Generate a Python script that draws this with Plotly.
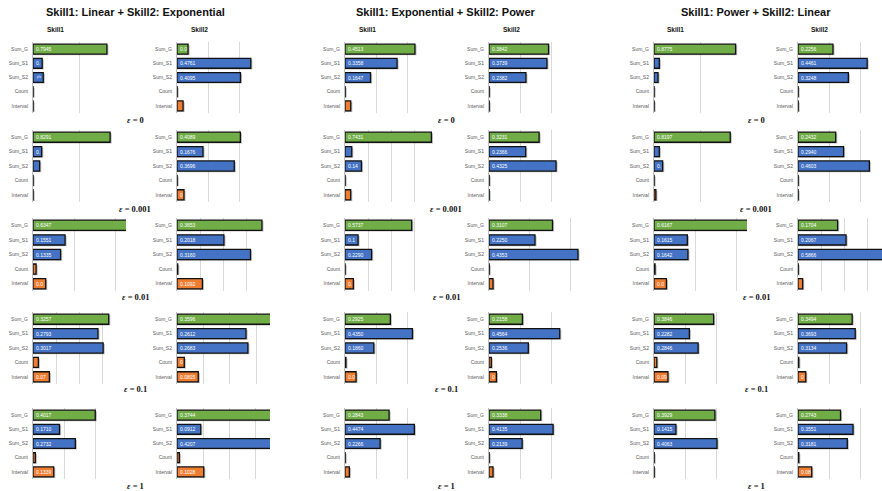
import plotly.graph_objects as go

# Bars per panel (top to bottom)
categories = ["Sum_G", "Sum_S1", "Sum_S2", "Count", "Interval"]
eps_values = ["0", "0.001", "0.01", "0.1", "1"]
group_titles = [
    "Skill1: Linear + Skill2: Exponential",
    "Skill1: Exponential + Skill2: Power",
    "Skill1: Power + Skill2: Linear",
]
skill_titles = ["Skill1", "Skill2"]

# One row per epsilon, values in category order
lin_exp_skill1 = [
    [0.7945, 0.0987, 0.1102, 0.0010, 0.0010],
    [0.8291, 0.0934, 0.0716, 0.0010, 0.0010],
    [0.6347, 0.1551, 0.1335, 0.0150, 0.0614],
    [0.3257, 0.2793, 0.3017, 0.0230, 0.0704],
    [0.4017, 0.1710, 0.2732, 0.0150, 0.1339],
]
lin_exp_skill2 = [
    [0.0712, 0.4761, 0.4095, 0.0010, 0.0390],
    [0.4089, 0.1676, 0.3696, 0.0010, 0.0450],
    [0.3653, 0.2018, 0.3160, 0.0030, 0.1092],
    [0.3596, 0.2612, 0.2683, 0.0276, 0.0805],
    [0.3744, 0.0912, 0.4207, 0.0090, 0.1028],
]
exp_pow_skill1 = [
    [0.4513, 0.3358, 0.1647, 0.0010, 0.0370],
    [0.7431, 0.0580, 0.1417, 0.0010, 0.0490],
    [0.5737, 0.1124, 0.2290, 0.0010, 0.0716],
    [0.2925, 0.4350, 0.1860, 0.0060, 0.0712],
    [0.2843, 0.4474, 0.2266, 0.0010, 0.0281],
]
exp_pow_skill2 = [
    [0.3842, 0.3739, 0.2382, 0.0010, 0.0010],
    [0.3231, 0.2366, 0.4325, 0.0010, 0.0010],
    [0.3107, 0.2250, 0.4353, 0.0010, 0.0196],
    [0.2158, 0.4564, 0.2536, 0.0150, 0.0478],
    [0.3338, 0.4135, 0.2139, 0.0010, 0.0258],
]
pow_lin_skill1 = [
    [0.8775, 0.0571, 0.0432, 0.0010, 0.0010],
    [0.8197, 0.0570, 0.0930, 0.0010, 0.0200],
    [0.6167, 0.1615, 0.1642, 0.0050, 0.0600],
    [0.3846, 0.2282, 0.2846, 0.0180, 0.0900],
    [0.3929, 0.1415, 0.4063, 0.0010, 0.0010],
]
pow_lin_skill2 = [
    [0.2256, 0.4461, 0.3248, 0.0010, 0.0010],
    [0.2432, 0.2940, 0.4603, 0.0010, 0.0010],
    [0.1704, 0.2067, 0.5866, 0.0010, 0.0200],
    [0.3494, 0.3693, 0.3134, 0.0050, 0.0500],
    [0.2743, 0.3551, 0.3181, 0.0050, 0.0886],
]

panels = [
    [lin_exp_skill1, lin_exp_skill2],
    [exp_pow_skill1, exp_pow_skill2],
    [pow_lin_skill1, pow_lin_skill2],
]

# Axis extents (upper x limit and grid step) for each panel, per epsilon row
axis_max = [
    [[1.0, 1.0, 0.45, 0.4, 0.6], [0.6, 0.6, 0.4, 0.352, 0.357]],
    [[0.6, 0.8, 0.8, 0.6, 0.6], [0.6, 0.6, 0.455, 0.6, 0.6]],
    [[1.0, 1.0, 0.45, 0.6, 0.6], [0.6, 0.6, 0.4, 0.6, 0.6]],
]
axis_step = [
    [[0.5, 0.5, 0.2, 0.1, 0.2], [0.2, 0.2, 0.1, 0.1, 0.1]],
    [[0.2, 0.2, 0.2, 0.2, 0.2], [0.2, 0.2, 0.2, 0.2, 0.2]],
    [[0.5, 0.5, 0.2, 0.2, 0.2], [0.2, 0.2, 0.1, 0.2, 0.2]],
]

W, H = 882, 491
bar_colors = ["#70AD47", "#4472C4", "#4472C4", "#ED7D31", "#ED7D31"]

# Panel geometry in pixels
panel_w = 93
panel_left = [[33, 177], [345, 489], [654, 798]]
row_top = [42, 130, 218, 312, 408]
row_bot = [113, 202, 291, 384, 479]
group_center = [135, 446, 756]
skill_center = [[55, 199], [367, 511], [675, 819]]
eps_y = [120, 209, 297, 389, 486]

LABEL_SIZE = 5
CHAR_W = {".": 0.278 * LABEL_SIZE}


def clipped_label(value, bar_px):
    """Value label cut to the characters that fit inside the bar."""
    full = f"{value:.4f}"
    room = bar_px - 4
    out, used = "", 0.0
    for ch in full:
        w = CHAR_W.get(ch, 0.556 * LABEL_SIZE)
        if used + w > room:
            break
        out += ch
        used += w
    return out


fig = go.Figure()
layout = {}
k = 0
for g in range(3):
    for s in range(2):
        for r in range(5):
            k += 1
            xname = "x" if k == 1 else f"x{k}"
            yname = "y" if k == 1 else f"y{k}"
            vals = panels[g][s][r]
            left = panel_left[g][s]
            right = min(left + panel_w, W)
            full_max = axis_max[g][s][r]
            xmax = full_max * (right - left) / panel_w
            px_per_unit = panel_w / full_max
            shadow_dx = 1.6 / px_per_unit
            labels = [clipped_label(v, min(v, xmax) * px_per_unit) for v in vals]

            # soft drop shadow under each bar
            fig.add_trace(go.Bar(
                y=categories, x=[v + shadow_dx for v in vals], orientation="h",
                xaxis=xname, yaxis=yname, width=0.7, offset=-0.27,
                marker=dict(color="rgba(0,0,0,0.25)", line=dict(width=0)),
                hoverinfo="skip", showlegend=False,
            ))
            fig.add_trace(go.Bar(
                y=categories, x=vals, orientation="h",
                xaxis=xname, yaxis=yname, width=0.7, offset=-0.35,
                marker=dict(color=bar_colors, line=dict(color="#111111", width=1.3)),
                text=labels, textposition="inside", insidetextanchor="start",
                textfont=dict(color="white", size=LABEL_SIZE, family="Liberation Sans"),
                showlegend=False,
            ))
            layout["xaxis" if k == 1 else f"xaxis{k}"] = dict(
                domain=[left / W, right / W], anchor=yname,
                range=[0, xmax], tick0=0, dtick=axis_step[g][s][r],
                showticklabels=False, ticks="", showgrid=True,
                gridcolor="#d9d9d9", gridwidth=1, zeroline=False,
                showline=False, fixedrange=True,
            )
            layout["yaxis" if k == 1 else f"yaxis{k}"] = dict(
                domain=[1 - row_bot[r] / H, 1 - row_top[r] / H], anchor=xname,
                categoryorder="array", categoryarray=categories,
                autorange="reversed", showgrid=False, zeroline=False,
                showline=True, linecolor="#bfbfbf", linewidth=1,
                ticks="", ticklabelstandoff=3,
                tickfont=dict(size=5, color="#595959", family="Liberation Sans"),
                fixedrange=True,
            )

annotations = []
for g in range(3):
    annotations.append(dict(
        text=f"<b>{group_titles[g]}</b>", x=group_center[g] / W, y=1 - 12 / H,
        xref="paper", yref="paper", showarrow=False, xanchor="center", yanchor="middle",
        font=dict(size=11, color="#111111", family="Liberation Sans"),
    ))
    for s in range(2):
        annotations.append(dict(
            text=f"<b>{skill_titles[s]}</b>", x=skill_center[g][s] / W, y=1 - 29 / H,
            xref="paper", yref="paper", showarrow=False, xanchor="center", yanchor="middle",
            font=dict(size=6.5, color="#111111", family="Liberation Sans"),
        ))
    for r in range(5):
        annotations.append(dict(
            text=f"<b><i>ε</i> = {eps_values[r]}</b>", x=group_center[g] / W,
            y=1 - eps_y[r] / H, xref="paper", yref="paper", showarrow=False,
            xanchor="center", yanchor="middle",
            font=dict(size=8.5, color="#111111", family="Liberation Serif"),
        ))

fig.update_layout(
    **layout,
    annotations=annotations,
    barmode="overlay",
    width=W, height=H, autosize=False,
    margin=dict(l=0, r=0, t=0, b=0),
    paper_bgcolor="white", plot_bgcolor="white",
    uniformtext=dict(minsize=LABEL_SIZE, mode="show"),
    showlegend=False,
)

fig.write_html("out.html")
